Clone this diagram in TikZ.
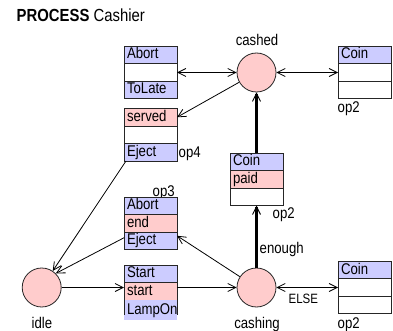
\documentclass[tikz,border=0pt]{standalone}
\usepackage{fontspec}
\setmainfont{Liberation Sans}[FakeStretch=0.85]
\usetikzlibrary{positioning,arrows.meta}
\definecolor{cblue}{RGB}{204,204,255}
\definecolor{cpink}{RGB}{255,204,204}
\newcommand\rowfont{\fontsize{15.5}{16}\selectfont}
\tikzset{sdl/.style={x=1pt,y=-1pt,font=\rowfont},
  oprow/.style={draw=black!85,line width=0.9pt,fill=white,minimum width=53pt,minimum height=17.5pt,
    text width=47pt,inner xsep=3pt,inner ysep=0pt,outer sep=0pt,align=left,text height=11pt,text depth=3pt},
  place/.style={circle,draw=black!85,line width=0.8pt,fill=cpink,minimum size=39pt,inner sep=0pt},
  lbl/.style={inner sep=0pt,font=\rowfont},
  conn/.style={line width=0.8pt,-{Straight Barb[length=8pt,width=8pt]}},
  conn2/.style={line width=0.8pt,{Straight Barb[length=8pt,width=8pt]}-{Straight Barb[length=8pt,width=8pt]}},
  thk/.style={line width=2.6pt,-{Straight Barb[length=8pt,width=8pt,line width=0.9pt]}}}

\begin{document}
\begin{tikzpicture}[sdl]
    \useasboundingbox (0,0) rectangle (393,331);
    \node[lbl,anchor=base west,font=\fontsize{17.5}{18}\selectfont] (title) at (16.5,21.5) {\textbf{PROCESS} Cashier};
    % states
    \node[place] (cashed)  at (256.5,72.5) {};
    \node[place] (cashing) at (256.5,287.5) {};
    \node[place] (idle)    at (41.7,287.5) {};
    \node[lbl,anchor=base] at (257,45.5) {cashed};
    \node[lbl,anchor=base] at (257,328) {cashing};
    \node[lbl,anchor=base] at (42,328) {idle};
    \node[lbl,anchor=base west] at (152.5,196.5) {op3};
    % operation boxes
    \node[oprow,fill=cblue,anchor=north west] (tl1) at (124,46.25) {Abort};
    \node[oprow,below=0pt of tl1] (tl2) {};
    \node[oprow,fill=cblue,below=0pt of tl2] (tl3) {ToLate};
    \node[oprow,fill=cpink,anchor=north west] (sv1) at (124,108.5) {served};
    \node[oprow,below=0pt of sv1] (sv2) {};
    \node[oprow,fill=cblue,below=0pt of sv2] (sv3) {Eject};
    \node[oprow,fill=cblue,anchor=north west] (en1) at (124,197) {Abort};
    \node[oprow,fill=cpink,below=0pt of en1] (en2) {end};
    \node[oprow,fill=cblue,below=0pt of en2] (en3) {Eject};
    \node[oprow,fill=cblue,anchor=north west] (st1) at (124,265) {Start};
    \node[oprow,fill=cpink,below=0pt of st1] (st2) {start};
    \node[oprow,draw=none,fill=cblue,minimum height=20pt,below=0pt of st2] (st3) {LampOn};
    \draw[black!85,line width=0.9pt] (st3.north west) -- ([yshift=5pt]st3.south west);
    \draw[black!85,line width=0.9pt] (st3.north east) -- ([yshift=5pt]st3.south east);
    \node[oprow,fill=cblue,anchor=north west] (ca1) at (338,46.25) {Coin};
    \node[oprow,below=0pt of ca1] (ca2) {};
    \node[oprow,below=0pt of ca2] (ca3) {};
    \node[oprow,fill=cblue,anchor=north west] (pd1) at (230,153) {Coin};
    \node[oprow,fill=cpink,below=0pt of pd1] (pd2) {paid};
    \node[oprow,below=0pt of pd2] (pd3) {};
    \node[oprow,fill=cblue,anchor=north west] (cb1) at (338,261.25) {Coin};
    \node[oprow,below=0pt of cb1] (cb2) {};
    \node[oprow,below=0pt of cb2] (cb3) {};
    \node[lbl,anchor=base west] at (337.5,113) {op2};
    \node[lbl,anchor=base west] at (272.5,218.5) {op2};
    \node[lbl,anchor=base west] at (337.5,328) {op2};
    \node[lbl,anchor=base west] at (178.5,157.5) {op4};
    % transitions
    \draw[conn2] (tl2) -- (cashed);
    \draw[conn2] (cashed) -- (ca2);
    \draw[conn] (cashed) -- (sv1.east);
    \draw[thk] (pd1.north) -- (cashed);
    \draw[thk] (cashing) -- (pd3);
    \node[lbl,anchor=base west] at (259.5,253.5) {enough};
    \draw[conn2] (cashing) -- (cb2);
    \node[lbl,anchor=base west,font=\fontsize{13.5}{14}\selectfont] at (288.5,303) {ELSE};
    \draw[conn] (idle) -- (idle -| st2.west);
    \draw[conn] (idle -| st2.east) -- (cashing);
    \draw[conn] (cashing) -- ([yshift=5pt]en3.east);
    \draw[conn] ([yshift=3pt]en3.west) -- (idle.north east);
    \draw[conn] ([xshift=2pt]sv3.south west) -- (idle);
  \end{tikzpicture}
\end{document}
